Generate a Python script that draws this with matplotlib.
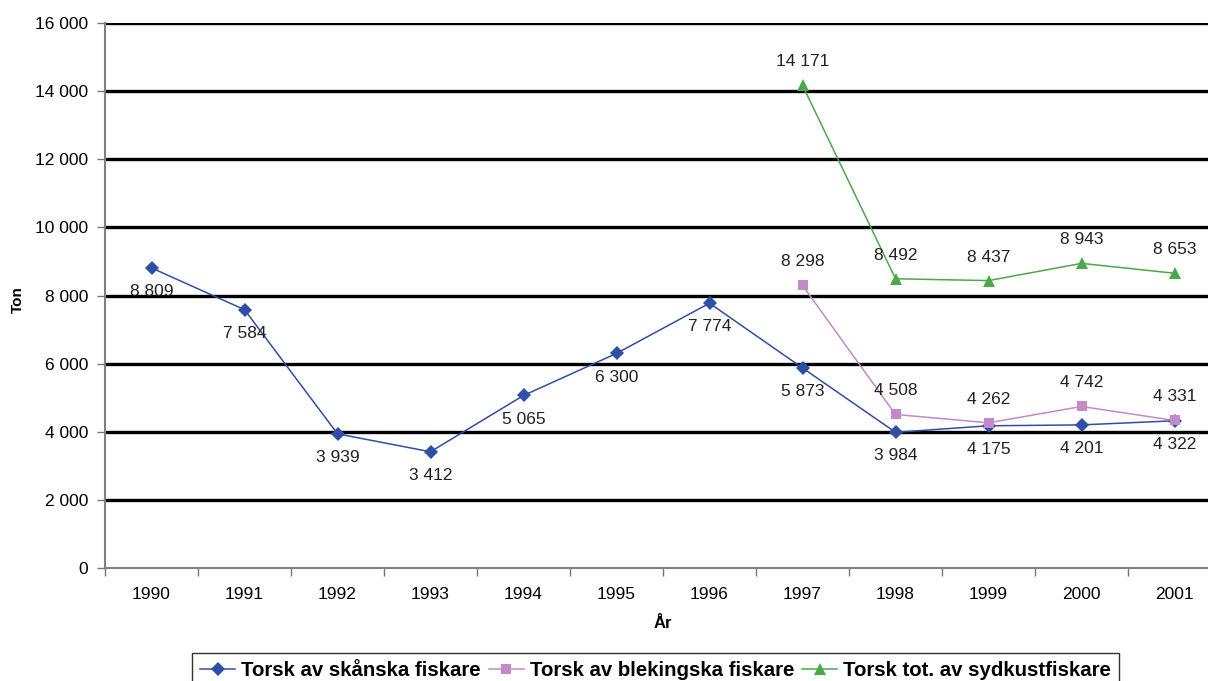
import matplotlib.pyplot as plt
from matplotlib.ticker import FixedLocator

plt.rcParams["font.family"] = ["Liberation Sans", "DejaVu Sans"]

years = [1990, 1991, 1992, 1993, 1994, 1995, 1996, 1997, 1998, 1999, 2000, 2001]
skane = [8809, 7584, 3939, 3412, 5065, 6300, 7774, 5873, 3984, 4175, 4201, 4322]
years_late = [1997, 1998, 1999, 2000, 2001]
blekinge = [8298, 4508, 4262, 4742, 4331]
sydkust = [14171, 8492, 8437, 8943, 8653]
yticks = [0, 2000, 4000, 6000, 8000, 10000, 12000, 14000, 16000]


def fmt(v):
    return f"{v:,}".replace(",", " ")


fig = plt.figure(figsize=(12.08, 6.81), dpi=100)
ax = fig.add_axes([105 / 1208, 1 - 568 / 681, 1116 / 1208, 545 / 681])

xs = list(range(len(years)))
xs_late = [years.index(y) for y in years_late]

series = [
    (xs, skane, "#2F4FA6", "D", 7, "Torsk av skånska fiskare", -17),
    (xs_late, blekinge, "#C28AC6", "s", 7, "Torsk av blekingska fiskare", 17),
    (xs_late, sydkust, "#4CA84A", "^", 8.5, "Torsk tot. av sydkustfiskare", 17),
]
for x, y, c, m, ms, lab, off in series:
    ax.plot(x, y, color=c, marker=m, markersize=ms, linewidth=1.1, label=lab,
            markeredgewidth=0, zorder=3)
    for xi, yi in zip(x, y):
        ax.annotate(fmt(yi), (xi, yi), xytext=(0, off), textcoords="offset points",
                    ha="center", va="center", fontsize=12.5, color="#222222")

ax.set_xlim(-0.5, len(years) - 0.5)
ax.set_ylim(0, 16000)
ax.set_yticks(yticks)
ax.set_yticklabels([fmt(v) for v in yticks], fontsize=12.5)
ax.set_xticks(xs)
ax.set_xticklabels([str(y) for y in years], fontsize=12.5)
ax.xaxis.set_minor_locator(FixedLocator([i - 0.5 for i in range(len(years) + 1)]))
ax.tick_params(axis="x", which="major", length=0, pad=14)
ax.tick_params(axis="x", which="minor", length=6, color="#777777", width=1)
ax.tick_params(axis="y", length=6, color="#777777", width=1, pad=6)

for v in yticks[1:]:
    ax.axhline(v, color="black", linewidth=2.4, zorder=1)

for s in ["top", "right"]:
    ax.spines[s].set_visible(False)
ax.spines["left"].set_color("#808080")
ax.spines["bottom"].set_color("#808080")
ax.spines["left"].set_linewidth(1.5)
ax.spines["bottom"].set_linewidth(1.5)

fig.text(18 / 1208, 1 - 300 / 681, "Ton", rotation=90, ha="center", va="center",
         fontsize=11, fontweight="bold")
ax.set_xlabel("År", fontsize=12, fontweight="bold", labelpad=10)

leg = fig.legend(loc="upper left", bbox_to_anchor=(192 / 1208, 1 - 653 / 681),
                 ncol=3, frameon=True, fancybox=False, edgecolor="black",
                 prop={"weight": "bold", "size": 14.7},
                 handlelength=1.7, columnspacing=0.4, borderpad=0.4,
                 handletextpad=0.3, borderaxespad=0)
leg.get_frame().set_linewidth(1.0)

fig.savefig("out.png", dpi=100)
